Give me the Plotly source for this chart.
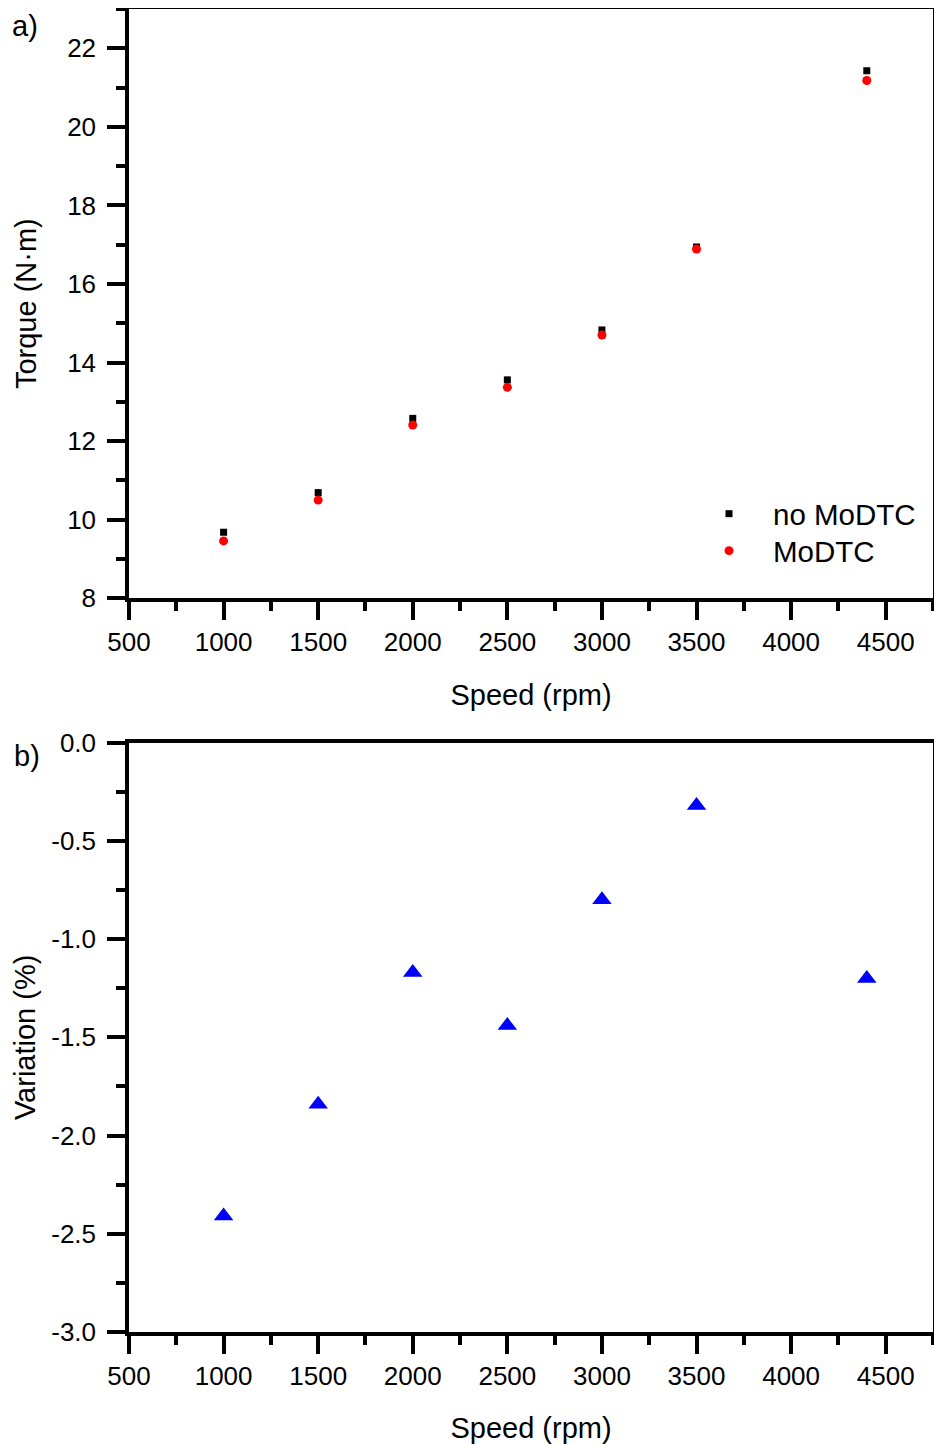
import plotly.graph_objects as go

# ---- data ----
speed = [1000, 1500, 2000, 2500, 3000, 3500, 4400]
torque_no_modtc = [9.68, 10.69, 12.58, 13.56, 14.83, 16.94, 21.43]
torque_modtc = [9.46, 10.50, 12.41, 13.37, 14.70, 16.89, 21.18]
variation = [-2.41, -1.84, -1.17, -1.44, -0.80, -0.32, -1.20]

var_tickvals = [0.0, -0.5, -1.0, -1.5, -2.0, -2.5, -3.0]
var_ticktext = ["0.0", "-0.5", "-1.0", "-1.5", "-2.0", "-2.5", "-3.0"]

W, H = 942, 1445
OFF = 8  # page body margin
FONT = "Liberation Sans, Arial, sans-serif"

def px_x(p):
    return (p - OFF) / W

def px_y(p):
    return 1 - (p - OFF) / H

x_dom = [px_x(129), px_x(933)]
top_dom = [px_y(598.3), px_y(9)]
bot_dom = [px_y(1332), px_y(742.7)]

fig = go.Figure()
fig.add_trace(go.Scatter(x=speed, y=torque_no_modtc, mode="markers", name="no MoDTC",
                         marker=dict(symbol="square", size=7, color="black"),
                         xaxis="x", yaxis="y", legend="legend"))
fig.add_trace(go.Scatter(x=speed, y=torque_modtc, mode="markers", name="MoDTC",
                         marker=dict(symbol="circle", size=9, color="red"),
                         xaxis="x", yaxis="y", legend="legend2"))
fig.add_trace(go.Scatter(x=speed, y=variation, mode="markers", name="Variation",
                         marker=dict(symbol="triangle-up", size=17, color="blue"),
                         xaxis="x2", yaxis="y2", showlegend=False))

def ax_style(**kw):
    d = dict(showline=True, linewidth=3.5, linecolor="black", ticks="outside",
             ticklen=18, tickwidth=3.5, tickcolor="black", showgrid=False,
             zeroline=False, automargin=False,
             tickfont=dict(size=26, color="black", family=FONT),
             title_font=dict(size=29, color="black", family=FONT))
    d.update(kw)
    return d

minor_x = dict(ticks="outside", ticklen=9, tickwidth=3.5, tickcolor="black", dtick=250, tick0=500)

leg_common = dict(xanchor="left", yanchor="top", bgcolor="rgba(0,0,0,0)", itemwidth=78,
                  font=dict(size=29.5, color="black", family=FONT))

fig.update_layout(
    width=W, height=H,
    margin=dict(l=0, r=0, t=0, b=0, autoexpand=False),
    paper_bgcolor="white", plot_bgcolor="white",
    font=dict(family=FONT, color="black"),
    xaxis=ax_style(domain=x_dom, anchor="y", range=[500, 4750], tick0=500, dtick=500,
                   mirror=True, ticklabelstandoff=0, minor=minor_x,
                   title=dict(text="Speed (rpm)", standoff=29)),
    yaxis=ax_style(domain=top_dom, anchor="x", range=[8, 23], tick0=8, dtick=2,
                   mirror="ticks", ticklabelstandoff=6,
                   minor=dict(ticks="outside", ticklen=9, tickwidth=3.5, tickcolor="black", dtick=1, tick0=8),
                   title=dict(text="Torque (N·m)", standoff=23)),
    xaxis2=ax_style(domain=x_dom, anchor="y2", range=[500, 4750], tick0=500, dtick=500,
                    mirror=True, ticklabelstandoff=0, minor=minor_x,
                    title=dict(text="Speed (rpm)", standoff=29)),
    yaxis2=ax_style(domain=bot_dom, anchor="x2", range=[-3, 0],
                    tickmode="array", tickvals=var_tickvals, ticktext=var_ticktext,
                    mirror="ticks", ticklabelstandoff=6,
                    minor=dict(ticks="outside", ticklen=9, tickwidth=3.5, tickcolor="black", dtick=0.25, tick0=0),
                    title=dict(text="Variation (%)", standoff=8)),
    legend=dict(x=px_x(685), y=px_y(488), **leg_common),
    legend2=dict(x=px_x(685), y=px_y(525), **leg_common),
    annotations=[
        dict(text="a)", x=px_x(25), y=px_y(26), xref="paper", yref="paper",
             xanchor="center", yanchor="middle",
             showarrow=False, font=dict(size=29, color="black", family=FONT)),
        dict(text="b)", x=px_x(27), y=px_y(756), xref="paper", yref="paper",
             xanchor="center", yanchor="middle",
             showarrow=False, font=dict(size=29, color="black", family=FONT)),
    ],
)

fig.write_html("out.html")
